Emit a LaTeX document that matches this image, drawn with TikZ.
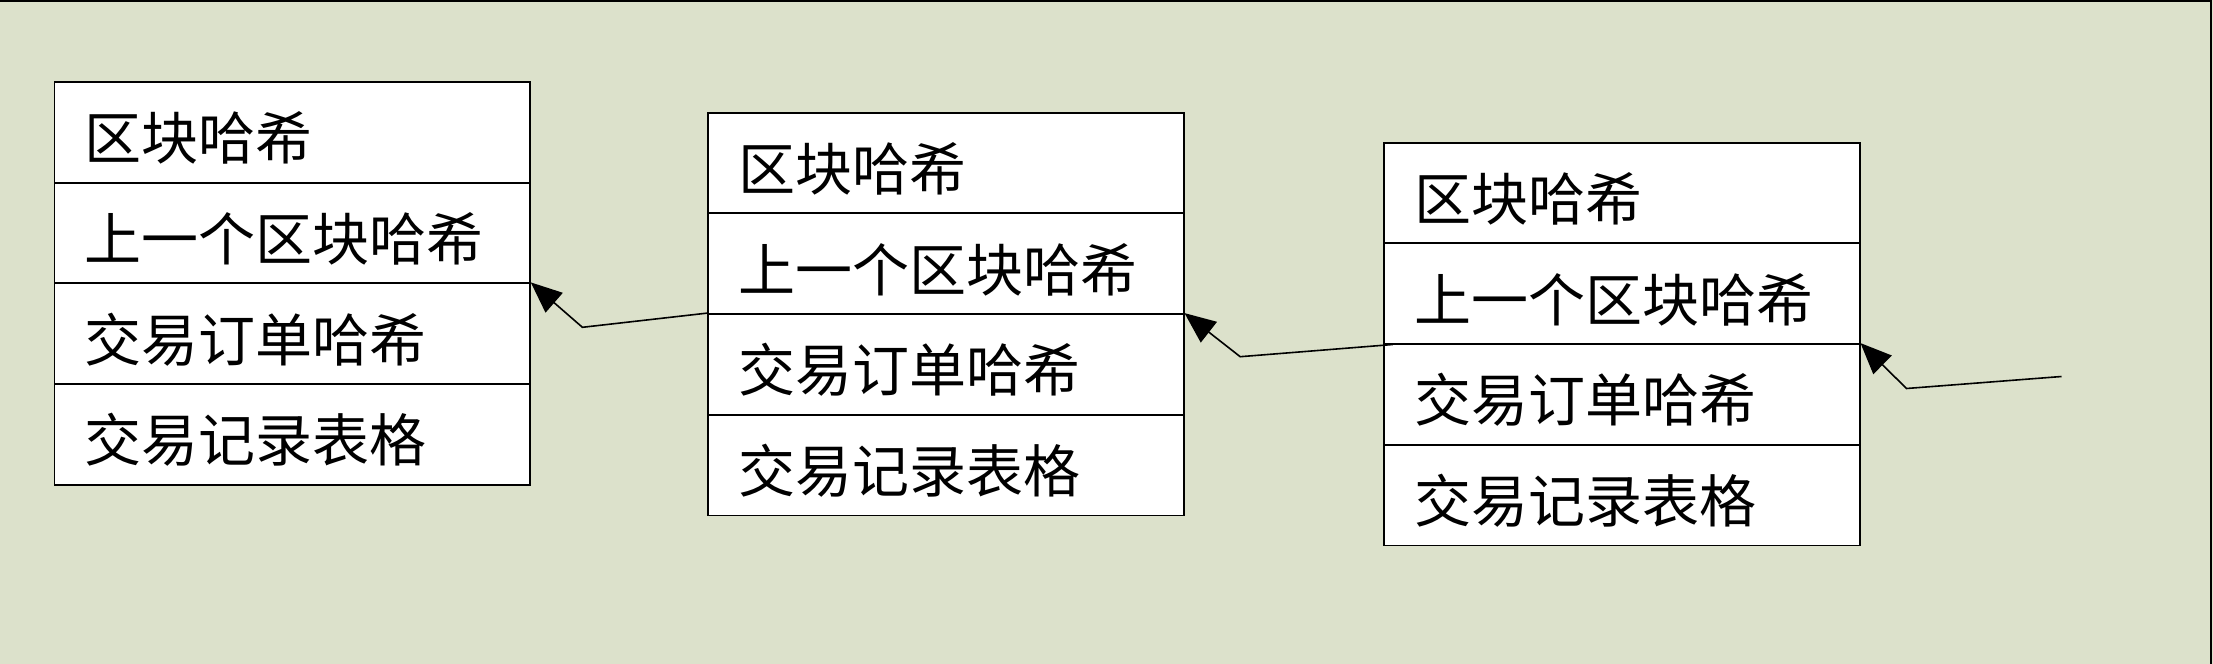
\documentclass[tikz,border=0pt]{standalone}
\usepackage{fontspec}
\newfontfamily\cjk{Noto Sans CJK SC}
\usetikzlibrary{arrows.meta,calc}
\definecolor{bgc}{RGB}{220,225,203}
\tikzset{
  cell/.style={draw=black, line width=0.9pt, fill=white, anchor=north west,
    minimum width=237.7pt, minimum height=50.35pt, inner xsep=15pt, inner ysep=0pt,
    text width=207.7pt, align=left, text height=31pt, text depth=3.5pt,
    font=\cjk\fontsize{28.5pt}{33pt}\selectfont},
  link/.style={draw=black, line width=0.8pt, -{Triangle[length=15.5pt,width=13pt]}}
}
\begin{document}
\begin{tikzpicture}[x=0.5pt,y=-0.5pt]
\useasboundingbox (0,0) rectangle (2213,664);
\fill[bgc] (0,0) rectangle (2213,664);
\draw[line width=1pt] (0,1) -- (2211,1) -- (2211,664);
% block 1
\node[cell] (b1r1) at (53.6,81) {区块哈希};
\node[cell] (b1r2) at (53.6,181.7) {上一个区块哈希};
\node[cell] (b1r3) at (53.6,282.4) {交易订单哈希};
\node[cell] (b1r4) at (53.6,383.1) {交易记录表格};
% block 2
\node[cell] (b2r1) at (707.3,111.7) {区块哈希};
\node[cell] (b2r2) at (707.3,212.4) {上一个区块哈希};
\node[cell] (b2r3) at (707.3,313.1) {交易订单哈希};
\node[cell] (b2r4) at (707.3,413.8) {交易记录表格};
% block 3
\node[cell] (b3r1) at (1383.3,141.7) {区块哈希};
\node[cell] (b3r2) at (1383.3,242.4) {上一个区块哈希};
\node[cell] (b3r3) at (1383.3,343.1) {交易订单哈希};
\node[cell] (b3r4) at (1383.3,443.8) {交易记录表格};
% connectors
\coordinate (k1) at (582.4,327.3);
\coordinate (k2) at (1240.2,356.7);
\coordinate (k3) at (1906.5,388.5);
\coordinate (s3) at (2061.5,376.5);
\draw[link] (b2r3.north west) -- (k1) -- (b1r3.north east);
\draw[link] ($(b3r3.north west)+(9.5,1.4)$) -- (k2) -- (b2r3.north east);
\draw[link] (s3) -- (k3) -- (b3r3.north east);
\end{tikzpicture}
\end{document}
